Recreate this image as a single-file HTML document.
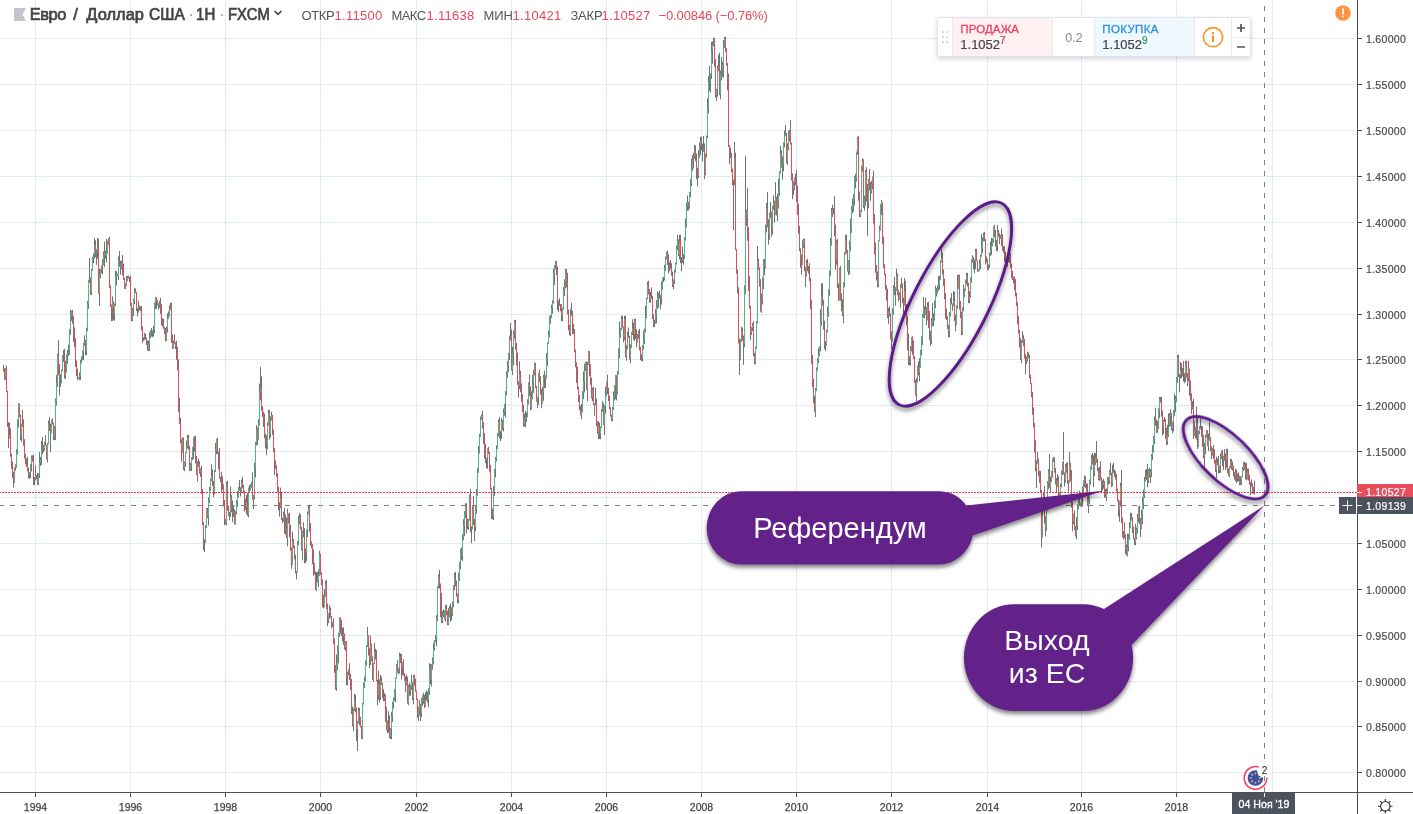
<!DOCTYPE html>
<html lang="ru">
<head>
<meta charset="utf-8">
<title>Евро / Доллар США</title>
<style>
html,body{margin:0;padding:0;background:#fff;}
body{width:1413px;height:814px;position:relative;overflow:hidden;font-family:"Liberation Sans","DejaVu Sans",sans-serif;}
#stage{position:absolute;left:0;top:0;width:1413px;height:814px;overflow:hidden;background:#fff;}
svg{position:absolute;left:0;top:0;}
.t{position:absolute;white-space:nowrap;line-height:1;}
.ax{font-size:10.5px;color:#4a4a4a;letter-spacing:0.3px;-webkit-text-stroke:0.2px #4a4a4a;}
.yr{font-size:10.5px;color:#444;letter-spacing:0;-webkit-text-stroke:0.25px #444;transform:translateX(-50%);}
.hd{font-size:13px;color:#555;top:8.6px;}
.hv{color:#e8465b;}
.tt{top:6px;font-size:16.4px;color:#444;-webkit-text-stroke:0.7px #444;}
#panel{position:absolute;left:937px;top:17px;width:314px;height:40px;background:#fff;border:1px solid #dfe3ea;box-sizing:border-box;box-shadow:0 2px 4px rgba(60,70,90,0.22);border-radius:2px;}
#panel div{position:absolute;top:0;bottom:0;box-sizing:border-box;}
#panel .t{bottom:auto;}
.callout{font-size:29px;color:#fff;text-align:center;}
</style>
</head>
<body>
<div id="stage">
<svg id="grid" width="1413" height="814" viewBox="0 0 1413 814">
  <g stroke="#e1ecf2" stroke-width="1" shape-rendering="crispEdges">
    <line x1="35.5" y1="0" x2="35.5" y2="792"/><line x1="130.5" y1="0" x2="130.5" y2="792"/><line x1="225.5" y1="0" x2="225.5" y2="792"/><line x1="320.5" y1="0" x2="320.5" y2="792"/><line x1="416.5" y1="0" x2="416.5" y2="792"/><line x1="511.5" y1="0" x2="511.5" y2="792"/><line x1="606.5" y1="0" x2="606.5" y2="792"/><line x1="701.5" y1="0" x2="701.5" y2="792"/><line x1="796.5" y1="0" x2="796.5" y2="792"/><line x1="891.5" y1="0" x2="891.5" y2="792"/><line x1="987.5" y1="0" x2="987.5" y2="792"/><line x1="1081.5" y1="0" x2="1081.5" y2="792"/><line x1="1176.5" y1="0" x2="1176.5" y2="792"/><line x1="1272.5" y1="0" x2="1272.5" y2="792"/>
    <line x1="0" y1="38.5" x2="1357" y2="38.5"/><line x1="0" y1="84.5" x2="1357" y2="84.5"/><line x1="0" y1="130.5" x2="1357" y2="130.5"/><line x1="0" y1="176.5" x2="1357" y2="176.5"/><line x1="0" y1="222.5" x2="1357" y2="222.5"/><line x1="0" y1="268.5" x2="1357" y2="268.5"/><line x1="0" y1="314.5" x2="1357" y2="314.5"/><line x1="0" y1="359.5" x2="1357" y2="359.5"/><line x1="0" y1="405.5" x2="1357" y2="405.5"/><line x1="0" y1="451.5" x2="1357" y2="451.5"/><line x1="0" y1="497.5" x2="1357" y2="497.5"/><line x1="0" y1="543.5" x2="1357" y2="543.5"/><line x1="0" y1="589.5" x2="1357" y2="589.5"/><line x1="0" y1="635.5" x2="1357" y2="635.5"/><line x1="0" y1="681.5" x2="1357" y2="681.5"/><line x1="0" y1="726.5" x2="1357" y2="726.5"/><line x1="0" y1="772.5" x2="1357" y2="772.5"/>
  </g>
  <g fill="none" stroke-width="1">
    <path stroke="#737375" d="M3.5 364.8V371.8M4.5 368.4V379.8M5.5 367.9V379.8M6.5 365.5V392.1M7.5 390.8V426.9M8.5 422.2V448.1M9.5 422.5V438.6M10.5 428.4V456.7M11.5 453.7V468.8M12.5 461.9V477.8M13.5 471.7V487.5M14.5 467V483M15.5 464.3V470.7M16.5 449.2V467.5M17.5 419.2V454.6M18.5 403.4V427.6M19.5 403.4V417.3M20.5 414.5V440M21.5 423.6V441.9M22.5 409.9V427.1M23.5 419.4V445.6M24.5 439.2V458.5M25.5 453.8V464.3M26.5 458.5V467M27.5 456.8V471.4M28.5 467.5V478.4M29.5 472V478.7M30.5 463.9V478M31.5 455.4V471.5M32.5 455.4V461.6M33.5 454.8V485.1M34.5 476.9V485.1M35.5 465.3V480.3M36.5 475.1V479.2M37.5 472.8V484.7M38.5 473.5V485.2M39.5 452V478M40.5 456.9V465.9M41.5 440.9V464.9M42.5 436.9V454.4M43.5 444.9V452.3M44.5 441.9V450.5M45.5 435.3V445.7M46.5 444.9V459.5M47.5 443.2V462.2M48.5 420.7V444.4M49.5 416.8V431M50.5 423.7V452.3M51.5 419.5V433.3M52.5 418.4V424.5M53.5 422.6V440.2M54.5 425.8V439.8M55.5 398.5V440.2M56.5 374.9V405.5M57.5 353.7V387M58.5 350.8V375.3M59.5 364.2V395.3M60.5 374.3V386.9M61.5 369.6V383.2M62.5 355.3V371.2M63.5 349.8V361.9M64.5 348.8V378.5M65.5 360.9V379.2M66.5 354.6V372.5M67.5 350V363.9M68.5 344.7V356M69.5 328.9V354.9M70.5 309.8V334.8M71.5 310.6V320.9M72.5 309.8V323.7M73.5 316.1V341.9M74.5 327.3V347.1M75.5 338.2V366.8M76.5 360.3V376.4M77.5 368.6V380.2M78.5 377.2V378.6M79.5 372.3V380.2M80.5 359.6V380.2M81.5 356.1V363.3M82.5 350.5V360.5M83.5 342.7V360.2M84.5 335.3V345.8M85.5 339.8V355.2M86.5 327.6V355.2M87.5 301.1V331.2M88.5 279.7V308.9M89.5 267.4V282.9M90.5 277.3V294.7M91.5 268.8V295M92.5 256.8V270.8M93.5 253.4V263M94.5 237.8V258.7M95.5 240.3V257.2M96.5 249.2V264.8M97.5 237.8V258.7M98.5 238.7V293.6M99.5 269V296.8M100.5 268.6V278.2M101.5 265.4V273.3M102.5 259.2V274.2M103.5 251.6V265.3M104.5 241.6V267M105.5 250.8V258.6M106.5 238.9V262.3M107.5 240.7V253.8M108.5 238.5V245M109.5 236.8V288M110.5 285.4V306.7M111.5 304.5V321.2M112.5 296.4V321.2M113.5 301.4V319.6M114.5 303.4V320.8M115.5 270.7V306M116.5 271.2V285.3M117.5 273.9V276.4M118.5 256.3V280.1M119.5 250.8V266.8M120.5 260.6V274.7M121.5 260.7V269.2M122.5 255V275.4M123.5 263.7V279.7M124.5 277.8V288.7M125.5 283.4V289.2M126.5 276V286.3M127.5 275.8V281.4M128.5 275.8V278.3M129.5 276.9V282.1M130.5 275.8V306.2M131.5 302.9V321.2M132.5 307.9V321.2M133.5 298.8V316M134.5 287.8V304.1M135.5 288.5V293.3M136.5 292V311.2M137.5 308V316.4M138.5 300.8V312.6M139.5 305.6V310.2M140.5 306.4V311.1M141.5 305.8V330.5M142.5 326.3V343.2M143.5 337.2V340.9M144.5 333V340.1M145.5 333.7V339.3M146.5 337.4V344.9M147.5 340.5V350.6M148.5 340.6V351.2M149.5 332.3V351M150.5 330.5V338.3M151.5 327.9V336.6M152.5 330.1V337.2M153.5 325.8V336.4M154.5 302.4V333.2M155.5 297.3V309.3M156.5 297.3V308.9M157.5 300V305.4M158.5 303.5V309.8M159.5 300.8V307.9M160.5 297.8V313.8M161.5 304.2V325.6M162.5 318.2V326.5M163.5 319V328.9M164.5 327.1V334.1M165.5 328V341.2M166.5 326.5V341.2M167.5 313.4V332.5M168.5 311.3V319.1M169.5 305.3V316.5M170.5 302.8V310.4M171.5 302.8V342.9M172.5 334.7V348.9M173.5 340.4V348.7M174.5 334.3V343.8M175.5 342.1V349M176.5 340.8V359.8M177.5 347V370.4M178.5 359.4V411.7M179.5 398.1V424.2M180.5 417.5V443.1M181.5 439.3V461.8M182.5 437.3V452.8M183.5 437.5V469.9M184.5 461.4V471.2M185.5 452.2V467M186.5 440.6V453.2M187.5 434.8V448.4M188.5 434.8V449.7M189.5 446V471.2M190.5 463V470.5M191.5 457.4V471.2M192.5 447.1V460.1M193.5 437.6V459M194.5 435.8V451.5M195.5 436.1V463.4M196.5 456V475.1M197.5 461.4V481.7M198.5 458.6V466.7M199.5 461.3V473.8M200.5 468.4V476.9M201.5 466V493.7M202.5 489V525.2M203.5 522.2V550.1M204.5 539.4V552.1M205.5 525.2V542.8M206.5 508V528.1M207.5 507.8V518.2M208.5 497.4V525.5M209.5 486.9V503.2M210.5 478.5V490.7M211.5 464.3V481.1M212.5 469.4V485.9M213.5 481V497.2M214.5 469.8V494.6M215.5 442.8V472.1M216.5 438.7V454.3M217.5 437.8V453.9M218.5 451.6V469.3M219.5 448.2V478.7M220.5 476.8V482.4M221.5 471.9V492.5M222.5 476.3V489.6M223.5 484.1V506.5M224.5 500V525.2M225.5 518.9V524.2M226.5 481.8V525.2M227.5 480.8V510.7M228.5 505.6V515.9M229.5 511.7V520.3M230.5 486.6V516.9M231.5 494.8V512.4M232.5 500.2V522.3M233.5 505.4V516.9M234.5 509.2V524.4M235.5 511.2V524.4M236.5 500.2V514.5M237.5 490.9V506.6M238.5 487V497.5M239.5 480V490.8M240.5 487.2V496.4M241.5 479.6V493M242.5 476.9V487.9M243.5 485V493.5M244.5 490.4V511.7M245.5 498.8V509.9M246.5 494.9V514.4M247.5 492.8V515.8M248.5 487.5V517.2M249.5 484.6V491.9M250.5 484.3V490.3M251.5 482V487.9M252.5 472.4V499.9M253.5 495V509.2M254.5 462.8V499M255.5 441.8V477.4M256.5 425V445.4M257.5 427.4V445M258.5 419.3V440.4M259.5 383.8V425.7M260.5 366.8V400.3M261.5 376.4V410.8M262.5 406.1V416.9M263.5 411.7V426.8M264.5 413.4V438.3M265.5 433.5V448.3M266.5 435.2V455.2M267.5 422.4V449.3M268.5 409.8V425.5M269.5 409.8V439.7M270.5 416.4V437.6M271.5 411.6V420.6M272.5 415V434.9M273.5 429.6V452.5M274.5 447.9V475M275.5 460.4V468.8M276.5 465.4V477M277.5 473.2V492.4M278.5 486.8V510.2M279.5 502.3V516.7M280.5 487.6V508.3M281.5 493V520M282.5 517.7V523.2M283.5 511.8V521.6M284.5 508V533.7M285.5 514.6V534.6M286.5 517.5V538M287.5 508.8V546.4M288.5 513.6V523.5M289.5 512.8V537.3M290.5 525V550.7M291.5 547.5V568.7M292.5 531.5V564.7M293.5 538.9V548.2M294.5 545.5V559.6M295.5 554.8V573.4M296.5 570.9V579.2M297.5 540.9V572.3M298.5 516.2V545.4M299.5 512.8V524.6M300.5 514.3V529.7M301.5 527V550.4M302.5 530.6V560.4M303.5 522.2V537.2M304.5 528.2V563.2M305.5 548.3V563.1M306.5 529.5V561M307.5 511.4V537.2M308.5 505.5V514.3M309.5 504.8V532M310.5 523.1V545.7M311.5 541.3V548.3M312.5 544.1V564.1M313.5 549.5V575.6M314.5 563.1V574.6M315.5 571.4V590.1M316.5 572.3V590.9M317.5 572V582.7M318.5 569.5V587.1M319.5 550.8V575.8M320.5 553.8V574.9M321.5 572.2V585.3M322.5 579.5V607.5M323.5 594.7V608.4M324.5 589.1V607.2M325.5 580.9V596.9M326.5 579.8V609.1M327.5 603.7V626.2M328.5 613.3V623.3M329.5 604.8V618.9M330.5 607.5V617.7M331.5 616V628.2M332.5 621.8V626.8M333.5 618.4V643.8M334.5 638.6V672.8M335.5 665V689.5M336.5 654.5V690.8M337.5 645.4V670.6M338.5 632.9V663.4M339.5 617.4V636.9M340.5 617.4V633.8M341.5 619.7V636.1M342.5 627.4V641.4M343.5 627.4V644.9M344.5 633.5V649.3M345.5 641.3V651M346.5 640.9V685.2M347.5 671.6V685.4M348.5 669.3V675.3M349.5 663.1V679.9M350.5 673.8V689.9M351.5 679V714.1M352.5 706.4V726.1M353.5 708.3V731.1M354.5 693.8V711M355.5 694.8V712.5M356.5 707.6V741.2M357.5 720.9V740.3M358.5 707.6V723.3M359.5 707.8V725.4M360.5 716.9V727.4M361.5 726V738.6M362.5 702.9V739.2M363.5 682.6V704.6M364.5 676.6V688.3M365.5 660.6V681M366.5 645.1V665.5M367.5 626.8V647M368.5 635.1V655.6M369.5 648.2V668.2M370.5 635.7V664.9M371.5 643.6V661.2M372.5 656.4V680M373.5 662.9V681.7M374.5 642.8V664M375.5 648.8V659.6M376.5 650.1V681.3M377.5 679.9V705.2M378.5 670.7V699.7M379.5 679.3V702.4M380.5 674.9V699.9M381.5 676.8V684.9M382.5 682.9V698.4M383.5 689.2V701.3M384.5 693V701M385.5 694.6V721.8M386.5 706.8V730.5M387.5 720.6V733.2M388.5 711.2V732.6M389.5 715.4V738.2M390.5 728V739.2M391.5 711.8V739.2M392.5 701.8V722.1M393.5 697.3V708.7M394.5 689.2V701M395.5 677.6V702.3M396.5 664.2V678.6M397.5 660.3V672.7M398.5 668.3V674.4M399.5 652.8V673.4M400.5 653.5V663.2M401.5 654V679.6M402.5 662V675M403.5 659.3V676.1M404.5 673.3V680.7M405.5 676.6V692.1M406.5 674.4V685.3M407.5 676.8V703.6M408.5 684.8V705.2M409.5 682.6V695.8M410.5 684.8V695.6M411.5 674.8V690.1M412.5 682.1V700M413.5 674.8V704.3M414.5 674.8V685.6M415.5 678.6V691.8M416.5 690.5V700M417.5 698.7V717.8M418.5 706.7V721.2M419.5 700.3V715.4M420.5 703.8V721.2M421.5 698V717M422.5 695.3V705.9M423.5 692.8V703.8M424.5 694.9V707.9M425.5 692.3V706.8M426.5 690.5V700.3M427.5 691.4V702.7M428.5 688.2V707.2M429.5 663.2V695M430.5 664.2V684.1M431.5 664.1V686.7M432.5 657.4V669.8M433.5 642.8V664.4M434.5 640V650.4M435.5 635V642.2M436.5 615.1V646.4M437.5 586V621M438.5 574.1V588.1M439.5 569.8V588.7M440.5 583.5V617.3M441.5 592.9V623.2M442.5 611.3V623.2M443.5 609.3V617M444.5 610.4V619.5M445.5 604.8V621.6M446.5 604.8V615.2M447.5 610.9V625.2M448.5 608.1V625.2M449.5 605.8V617.4M450.5 603.4V621.8M451.5 607.1V620.1M452.5 601.5V616M453.5 585.2V607.3M454.5 572.8V590.3M455.5 571.9V586.2M456.5 580.4V596.5M457.5 593.5V603.2M458.5 572.7V603.2M459.5 561.7V580.9M460.5 548.9V569.3M461.5 547.3V559.7M462.5 534.6V561M463.5 519.2V540.2M464.5 511.2V536.1M465.5 503.3V518.3M466.5 503.3V533.5M467.5 518.6V528.9M468.5 519V530.1M469.5 494.4V520.6M470.5 488.9V532.1M471.5 526.2V543.2M472.5 506.5V529.3M473.5 496.2V525M474.5 519V541M475.5 506.1V531.2M476.5 489.1V513.7M477.5 468.1V495.8M478.5 446V472.8M479.5 434V453.5M480.5 416.7V436.8M481.5 414.7V420M482.5 410.8V428.5M483.5 422.2V444M484.5 433.2V458.7M485.5 443.9V463.2M486.5 457.6V468.2M487.5 448.4V468.7M488.5 446.8V454.2M489.5 451.8V471.8M490.5 464.8V489.6M491.5 487.9V519.2M492.5 508.5V519.2M493.5 486.1V519.2M494.5 468.8V495.7M495.5 456.9V477.4M496.5 445.4V461.3M497.5 433.2V448.9M498.5 419.7V436.6M499.5 417.1V438.3M500.5 431.1V441.2M501.5 417.9V438.9M502.5 419.9V430M503.5 408.6V431.6M504.5 403.9V415.7M505.5 391.2V417.6M506.5 371.4V395.3M507.5 360.9V377.6M508.5 353.1V372.2M509.5 335.5V360M510.5 322.9V340.4M511.5 329.6V370.5M512.5 346.8V375.2M513.5 330.5V365.3M514.5 319.8V338.6M515.5 319.8V349.8M516.5 343V365.3M517.5 352.5V384.8M518.5 381.4V397.5M519.5 361.3V389M520.5 370.8V392.2M521.5 383.3V401.9M522.5 394.2V411.9M523.5 404.7V426.5M524.5 413.8V426.7M525.5 410.8V427.2M526.5 412.2V421.8M527.5 399.3V417.3M528.5 382.5V404.5M529.5 374.3V396.1M530.5 386.4V410.3M531.5 391.2V409.2M532.5 374.9V399.3M533.5 369.8V392.9M534.5 362.8V375.5M535.5 362.8V388M536.5 386.1V401.6M537.5 396.8V408.2M538.5 372.7V404.6M539.5 369.8V382M540.5 376.1V394.6M541.5 389.2V408.2M542.5 387V403.6M543.5 374.8V400.8M544.5 370.7V388.4M545.5 375.3V387.8M546.5 353.1V378.5M547.5 342.5V365.8M548.5 330.6V343.9M549.5 315.9V337.1M550.5 315V323.7M551.5 304.7V317.9M552.5 300.3V313.7M553.5 268.9V303.6M554.5 265.2V285M555.5 261.1V269.4M556.5 260.8V275M557.5 266.7V310M558.5 300.6V312.1M559.5 298.3V306.2M560.5 304.1V311.3M561.5 304.1V321.2M562.5 307.8V321.2M563.5 286.9V309.6M564.5 279.3V296.2M565.5 269V288.6M566.5 268.8V287.5M567.5 272.8V314.3M568.5 309.7V330.3M569.5 325V335.2M570.5 309.4V336.3M571.5 302.8V316.1M572.5 311V334.2M573.5 324V333.9M574.5 329V352.4M575.5 349.6V367.2M576.5 362.2V383M577.5 367V389.2M578.5 386.7V402M579.5 395.1V410.1M580.5 405.7V415.4M581.5 404.1V419.2M582.5 391V412.4M583.5 371.3V399.2M584.5 363.8V392.5M585.5 361.8V371M586.5 361.4V389.8M587.5 362.2V401.2M588.5 350.8V365M589.5 351.3V376.3M590.5 364.1V384.7M591.5 377.7V398.4M592.5 387.7V400.9M593.5 386.9V405.1M594.5 403.4V415.7M595.5 387.7V405.3M596.5 398.5V426.3M597.5 421.4V433.6M598.5 421.1V439.2M599.5 422.8V439M600.5 426.4V439.2M601.5 408.8V428M602.5 400.8V412.1M603.5 403.3V425.2M604.5 405.6V435M605.5 386.8V413.6M606.5 382V396M607.5 374.8V394.1M608.5 387.7V401M609.5 395.7V409.2M610.5 407.3V416.5M611.5 414.8V421.2M612.5 406.9V421.2M613.5 391.5V409.9M614.5 385.3V400.4M615.5 375.1V399.2M616.5 375.3V400.5M617.5 371.2V394.2M618.5 348.4V374.6M619.5 321.5V358.5M620.5 327.9V337.4M621.5 315.8V329.9M622.5 315.8V327.5M623.5 326.4V342.3M624.5 315.8V340M625.5 315.8V357.4M626.5 345.2V360.8M627.5 331.5V349.3M628.5 327.4V337.8M629.5 335.8V359.5M630.5 344.2V363.2M631.5 331.9V348.1M632.5 319.3V335M633.5 322.6V339.6M634.5 318.8V341M635.5 318.8V338.9M636.5 329.4V347.3M637.5 333.8V342.7M638.5 330.7V338.9M639.5 328.8V350.3M640.5 346.9V360.2M641.5 354.2V361.2M642.5 344.9V361.2M643.5 330.8V349.4M644.5 328.5V344.1M645.5 305.8V332.3M646.5 297.8V318.1M647.5 281.6V299.4M648.5 280.8V294.5M649.5 288.9V302.8M650.5 292V302.7M651.5 287.5V299M652.5 295.8V319M653.5 314.4V326.8M654.5 319.6V327.2M655.5 309.1V323.8M656.5 300.1V323.4M657.5 291.3V308.9M658.5 293V307.7M659.5 290.8V298.8M660.5 295V309.2M661.5 281.3V304.6M662.5 277.6V289.9M663.5 276.8V282.1M664.5 264.7V280.6M665.5 256.4V270.9M666.5 251.6V259.3M667.5 250.8V265.1M668.5 254.2V273.5M669.5 262.3V271.3M670.5 260V269.1M671.5 263.3V275.6M672.5 271.6V287M673.5 279.3V289.2M674.5 269.6V284.1M675.5 262.5V272.7M676.5 245.4V264.6M677.5 234.8V250.2M678.5 239.3V256.2M679.5 234.8V259.4M680.5 234.9V263.1M681.5 257V271.2M682.5 246.6V263M683.5 254.5V264.7M684.5 237.3V258.9M685.5 218.3V240.4M686.5 202.6V227.6M687.5 195.5V210.8M688.5 201.9V210.5M689.5 192V208.7M690.5 179.3V197.2M691.5 158.4V186.2M692.5 155.1V170.9M693.5 152.7V168.6M694.5 144.8V158.8M695.5 145.4V161.3M696.5 153.5V179.1M697.5 167.7V186.3M698.5 150.4V178.1M699.5 142.5V157.6M700.5 136.8V155.1M701.5 136.8V150.4M702.5 143.5V161.4M703.5 136.1V151.7M704.5 143.4V179.2M705.5 153.5V175.1M706.5 135.6V157.6M707.5 98.3V138M708.5 76.3V113.3M709.5 65.9V91M710.5 73.5V92.5M711.5 41.9V79M712.5 41.3V63.8M713.5 37.8V46.1M714.5 37.8V66.5M715.5 59.2V97.6M716.5 88.8V101.2M717.5 65.6V96.8M718.5 54.8V71.2M719.5 52.6V95.1M720.5 70.6V99.2M721.5 57V80.4M722.5 61.8V76.7M723.5 40V77.7M724.5 36.8V48.1M725.5 36.8V51.7M726.5 48.1V65.8M727.5 63.1V90.4M728.5 73.5V146.8M729.5 144.8V164.2M730.5 147.7V158.1M731.5 152.7V172.1M732.5 168.5V185.2M733.5 179.5V205.3M734.5 146.9V184.9M735.5 152.7V250.2M736.5 248.9V273.8M737.5 269.5V293.5M738.5 287.3V343.4M739.5 338.6V365.2M740.5 339.2V360.1M741.5 326.8V341.9M742.5 327.7V340.6M743.5 335.5V364.9M744.5 285.3V347.1M745.5 208.9V294.2M746.5 209.8V225.9M747.5 204.8V240.7M748.5 227.2V290.9M749.5 276.2V308.6M750.5 305.9V340M751.5 327.1V334.9M752.5 323V331M753.5 321V356.3M754.5 352.8V364.2M755.5 346.6V364.2M756.5 321.1V348.6M757.5 258.8V323.3M758.5 258.8V269.7M759.5 267.4V286.7M760.5 279.1V311.7M761.5 293.4V312.9M762.5 277.3V304.5M763.5 258.9V289.2M764.5 259.4V275.2M765.5 224.8V268.4M766.5 202.8V232.4M767.5 204.8V227.5M768.5 219.3V244.7M769.5 212.8V239.8M770.5 202.1V218M771.5 211.5V236.6M772.5 205.8V234.4M773.5 195.3V209.8M774.5 200.7V222.6M775.5 192.5V214.9M776.5 196.7V215.4M777.5 193.5V221.2M778.5 178.6V208.6M779.5 171.3V196.1M780.5 146.1V173.4M781.5 150.4V167.7M782.5 156.4V179.7M783.5 142.3V171.3M784.5 130.6V147.4M785.5 125.1V136.3M786.5 133V163.3M787.5 143.3V165M788.5 130.7V150.1M789.5 129.8V141.2M790.5 128.8V144.4M791.5 142.7V180.5M792.5 173.4V199.2M793.5 181.3V195M794.5 177.5V190.4M795.5 173.8V185.1M796.5 178.3V201.6M797.5 185.5V215M798.5 203.8V233.7M799.5 225.9V251.1M800.5 248.4V267.8M801.5 254.6V274.8M802.5 240.3V264.8M803.5 238.5V248.2M804.5 238.6V271.1M805.5 267V287.2M806.5 259.9V276.2M807.5 258.7V271.3M808.5 266.1V273.7M809.5 263.1V281.1M810.5 277.9V309.1M811.5 300V363.8M812.5 355V387.2M813.5 378.9V403.2M814.5 395.8V411.8M815.5 388V411.6M816.5 367.5V391.1M817.5 358.3V370.7M818.5 348.4V363M819.5 346V356.3M820.5 309.3V351.4M821.5 283.4V325.6M822.5 283.3V305.5M823.5 300.1V329.6M824.5 320.7V349M825.5 341.3V351.2M826.5 329.7V345.8M827.5 306.7V332.4M828.5 289.4V316.7M829.5 270.6V295.7M830.5 238V276.3M831.5 208V245.7M832.5 204.8V217M833.5 207.9V214.4M834.5 206.9V236.2M835.5 224.6V269.9M836.5 239.8V264.6M837.5 238.8V288.1M838.5 283.4V300.9M839.5 267.6V300.5M840.5 265.8V300.7M841.5 293.3V311.2M842.5 299.2V316M843.5 282.3V323.2M844.5 252.1V287.2M845.5 234.8V254.6M846.5 234.8V253.3M847.5 250V271.6M848.5 260V275.2M849.5 240.7V274M850.5 218.5V251.1M851.5 206.1V232.9M852.5 198.5V213.3M853.5 194.2V211.5M854.5 176.3V205.4M855.5 173.7V188.3M856.5 151.5V181.6M857.5 136.8V154.9M858.5 136.8V200.9M859.5 191.4V217.2M860.5 210.2V217.2M861.5 165.8V212.2M862.5 158.4V171.6M863.5 159.3V207.9M864.5 195.7V210.6M865.5 170V205.8M866.5 167.1V201.7M867.5 184V221.2M868.5 178.8V208.2M869.5 168.8V190.5M870.5 182.2V200.8M871.5 180.8V193.3M872.5 176.5V189.3M873.5 170.8V223.6M874.5 213.9V254.5M875.5 242.5V272.9M876.5 265V280.5M877.5 271.6V287.2M878.5 240.2V287.2M879.5 225.6V241.4M880.5 204.3V230.8M881.5 203.2V214.9M882.5 202.7V244.4M883.5 236.8V268M884.5 264.2V275.2M885.5 273.8V289.6M886.5 285.2V300.5M887.5 288.8V318.2M888.5 307.9V323.7M889.5 306.3V316.5M890.5 313.1V339.6M891.5 331.6V349.2M892.5 308.4V341.6M893.5 285.2V314.4M894.5 276.9V295.1M895.5 287.2V305.7M896.5 268.8V291M897.5 273.5V295.3M898.5 290.2V301.2M899.5 292.4V299.6M900.5 284.4V307.7M901.5 277.8V288.1M902.5 283.4V303M903.5 297.6V320.7M904.5 277.8V305.6M905.5 280.9V312.9M906.5 304.1V325.7M907.5 316.5V350.3M908.5 333.7V365.2M909.5 356.4V365.2M910.5 346.1V365.7M911.5 337.1V351.4M912.5 336.4V354.8M913.5 340.3V359M914.5 356.1V382.9M915.5 379.8V395.6M916.5 378V395.6M917.5 365.7V382.6M918.5 361.4V375.3M919.5 358.3V381.2M920.5 349.7V368M921.5 336.3V355.5M922.5 314.1V345.1M923.5 296.8V317.6M924.5 306.3V318.4M925.5 297.7V314.9M926.5 307.1V325M927.5 302.3V320.4M928.5 301.8V327.9M929.5 311V339.9M930.5 331V345.8M931.5 318V343.9M932.5 303.2V326.3M933.5 313.2V326M934.5 300.5V320.5M935.5 285.5V308.1M936.5 287.9V296.6M937.5 285.3V293.5M938.5 276V291M939.5 276V289.4M940.5 260.4V280M941.5 248.8V262.6M942.5 252.5V274.5M943.5 269.4V285.9M944.5 278.7V299.2M945.5 293.2V318.7M946.5 308.4V320M947.5 316.2V329M948.5 324.9V337.2M949.5 312.1V337.2M950.5 297.9V316.3M951.5 293V304.5M952.5 303.5V310.8M953.5 291V306.1M954.5 291.7V321.1M955.5 314.6V331.2M956.5 305.1V325.4M957.5 274.8V308.6M958.5 274.8V288.8M959.5 274.8V309.6M960.5 300.9V318.2M961.5 311.5V335.2M962.5 307.2V335.2M963.5 284.7V311.2M964.5 288.6V297.3M965.5 279.6V290.8M966.5 272.8V284.5M967.5 272.9V286.7M968.5 282.8V303.2M969.5 291.1V303.2M970.5 277.3V297.6M971.5 259.3V282.8M972.5 255.4V262.5M973.5 256.9V269.6M974.5 259.4V273.3M975.5 248.8V269.2M976.5 248.8V261.4M977.5 260.7V271.7M978.5 269.3V271.7M979.5 259.4V270.7M980.5 254.6V269.2M981.5 234.2V256.7M982.5 237.1V252.8M983.5 232.8V241.2M984.5 231.8V241.3M985.5 239.1V264.6M986.5 256.6V262.4M987.5 258.9V270.2M988.5 264.4V270.2M989.5 252.6V267.8M990.5 241.6V256.1M991.5 238V254.8M992.5 238.6V246.3M993.5 226.5V242.7M994.5 224.8V237.1M995.5 230V246.7M996.5 240V251.2M997.5 224.9V250.8M998.5 230V236.8M999.5 233.3V243.9M1000.5 235.1V238.8M1001.5 228.8V246.1M1002.5 234.1V250.7M1003.5 246.3V252.9M1004.5 245.8V261.7M1005.5 251.8V264.3M1006.5 258.3V267.2M1007.5 253.2V266.9M1008.5 252.3V262.2M1009.5 256.8V263.1M1010.5 253.3V268.1M1011.5 263.5V278.4M1012.5 271V280M1013.5 276.7V283.4M1014.5 276.5V289.9M1015.5 279V296.4M1016.5 292.8V305.9M1017.5 302.4V324.3M1018.5 315.7V333.6M1019.5 330V347.7M1020.5 337.9V359.8M1021.5 340.2V363.2M1022.5 331.2V342.8M1023.5 335.3V346.3M1024.5 338.9V358.6M1025.5 353.9V374.2M1026.5 356.6V364.3M1027.5 351.6V361.7M1028.5 352.5V358.4M1029.5 354.8V378.4M1030.5 374.8V384.1M1031.5 383.2V397.4M1032.5 392V414.8M1033.5 407.3V427.2M1034.5 423V452.6M1035.5 440.3V471.2M1036.5 460.4V470.4M1037.5 451.6V463.7M1038.5 458.7V476.3M1039.5 470.6V482.9M1040.5 470.9V492.6M1041.5 489.7V547.2M1042.5 504.6V537.6M1043.5 492.4V508.8M1044.5 486.1V523.5M1045.5 516.2V536.3M1046.5 501.4V530.7M1047.5 481V510.3M1048.5 469.2V489.3M1049.5 468V487.5M1050.5 476.5V493M1051.5 470.9V481.7M1052.5 458.5V477.5M1053.5 456.8V462.1M1054.5 457.5V472.7M1055.5 468.1V484.5M1056.5 478.2V493.2M1057.5 474V486.9M1058.5 476.4V496.1M1059.5 492V503.2M1060.5 483.7V501.2M1061.5 470.7V487.4M1062.5 462.3V474.9M1063.5 460.8V474.7M1064.5 472.4V486.5M1065.5 463.9V482.6M1066.5 462.8V472.7M1067.5 462.3V483.9M1068.5 480.4V491.5M1069.5 462.8V482.6M1070.5 462.8V481.3M1071.5 470.1V507.8M1072.5 502.2V531.3M1073.5 513.6V524.1M1074.5 510.4V529.9M1075.5 526.1V536.4M1076.5 517.2V539.2M1077.5 504.3V530M1078.5 497.9V509.4M1079.5 490.8V505.3M1080.5 502.3V506.6M1081.5 496.4V506.8M1082.5 486.6V506.6M1083.5 480.2V494.2M1084.5 475.6V487M1085.5 476.3V488.2M1086.5 483.6V491.4M1087.5 483.6V505.9M1088.5 495V513.2M1089.5 479.6V504.3M1090.5 466.5V484.4M1091.5 454.8V469.8M1092.5 452.8V464.6M1093.5 455.1V487.2M1094.5 452.9V476.1M1095.5 453V465M1096.5 452.8V462.7M1097.5 458.8V471.1M1098.5 467.6V480.2M1099.5 466.8V481.2M1100.5 461.2V479.6M1101.5 477.5V493.2M1102.5 480.2V490.5M1103.5 478.8V488.8M1104.5 481V497.7M1105.5 489V497.6M1106.5 488.3V501.2M1107.5 477.3V493.9M1108.5 477.1V484.7M1109.5 469.8V483.8M1110.5 462.8V475.2M1111.5 472.7V487.2M1112.5 464.7V486M1113.5 462.8V472.9M1114.5 469.6V476.8M1115.5 471.1V479.7M1116.5 474.2V491.4M1117.5 488.6V501.4M1118.5 499.5V516.7M1119.5 500.7V521.8M1120.5 482.8V506.5M1121.5 485.1V523.2M1122.5 517.5V537.3M1123.5 531.3V539.4M1124.5 522.4V538.3M1125.5 534.4V554.3M1126.5 544.5V555.5M1127.5 533.7V556.4M1128.5 533.9V551.2M1129.5 522.1V539.7M1130.5 512.8V528.3M1131.5 512.8V520.6M1132.5 517.4V533.1M1133.5 526.7V539.5M1134.5 537.7V545.1M1135.5 523.7V545.2M1136.5 527.5V539.5M1137.5 513.9V533.6M1138.5 506.4V522.3M1139.5 505.4V524.2M1140.5 518V536.9M1141.5 509.9V529M1142.5 497.1V524.2M1143.5 489.6V508.9M1144.5 476.9V498M1145.5 470V481.6M1146.5 468.8V479.9M1147.5 463.8V487.4M1148.5 469.4V483.2M1149.5 467.7V477.7M1150.5 469.1V483.2M1151.5 454V477M1152.5 445.2V460.1M1153.5 435.9V452.6M1154.5 416.6V444.2M1155.5 407.7V425.8M1156.5 419.5V433M1157.5 421V432.6M1158.5 408.3V429.2M1159.5 397V418.1M1160.5 396.8V402.7M1161.5 397V416.7M1162.5 410.6V435.7M1163.5 419.7V433.9M1164.5 417V421.9M1165.5 418.9V438.7M1166.5 427.7V445.2M1167.5 424.9V444.6M1168.5 413.3V437M1169.5 413.4V426.9M1170.5 409.1V426.1M1171.5 412.8V430.1M1172.5 421.7V433.2M1173.5 410.1V431.3M1174.5 393.5V415.9M1175.5 395.8V411.9M1176.5 377V401.9M1177.5 354.8V382.8M1178.5 354.8V377M1179.5 373.9V392.2M1180.5 361.9V378.5M1181.5 363V378M1182.5 367.9V376.4M1183.5 360.8V381.5M1184.5 373.1V383.2M1185.5 361V381.6M1186.5 360.8V377.4M1187.5 373.1V386.1M1188.5 360.8V381.2M1189.5 368.7V396M1190.5 380.4V400.7M1191.5 393.4V414.1M1192.5 401.3V409.2M1193.5 398.8V438.9M1194.5 421.3V436.2M1195.5 426.9V437.9M1196.5 406.5V439.5M1197.5 417.6V449M1198.5 430.7V446.7M1199.5 426.2V434.1M1200.5 416.8V429.5M1201.5 425.6V436.8M1202.5 426.4V446.8M1203.5 435V458.3M1204.5 442.8V459.2M1205.5 434.4V454.3M1206.5 430.2V437.6M1207.5 430.2V446.2M1208.5 433.5V451.1M1209.5 434.7V440.8M1210.5 437.1V451.3M1211.5 446.3V459.1M1212.5 447.9V455.5M1213.5 445V458.7M1214.5 449.3V463.6M1215.5 460V472M1216.5 456.7V471.8M1217.5 458.4V465.1M1218.5 456V473.2M1219.5 465.5V473.2M1220.5 453.4V472.7M1221.5 450.3V459.1M1222.5 450.2V466.1M1223.5 455.7V470M1224.5 449.1V460.8M1225.5 453.4V470M1226.5 448.8V467.5M1227.5 448.8V473.3M1228.5 468.5V475.8M1229.5 466.2V477.1M1230.5 458.9V468.2M1231.5 458.8V469.6M1232.5 461.5V470.5M1233.5 465.5V476.3M1234.5 471.9V479.4M1235.5 468.8V481.1M1236.5 469.6V483M1237.5 473.3V481.7M1238.5 472.4V481.2M1239.5 475.6V485.2M1240.5 476.5V485.2M1241.5 476.3V484.8M1242.5 467V477.2M1243.5 461.9V471.1M1244.5 461.9V469.7M1245.5 462.8V479.4M1246.5 462.8V480.3M1247.5 468.6V479.4M1248.5 468.8V480.5M1249.5 474.7V484.7M1250.5 481.7V489.4M1251.5 479.3V486.6M1252.5 483.4V493.6M1253.5 487V493.7M1254.5 480.8V494.5M745.5 156V226M734.5 142V166M733.5 200V230M747.5 188V230M757.5 246V262M767.5 192V215M775.5 182V200M790.5 120V135M796.5 170V190M834.5 196V215M858.5 136V150M867.5 215V236M881.5 200V212M1063.5 432V460M1096.5 441V456M1069.5 452V466M1049.5 454V470M1121.5 470V490M1036.5 470V488M1204.5 450V468M1209.5 422V436M1216.5 464V478M1250.5 486V495M357.5 731V751M58.5 340V352M260.5 368V385M89.5 258V275M99.5 290V306M470.5 490V512M493.5 497V520M739.5 352V375M815.5 395V417M916.5 380V401"/>
    <path stroke="#4fb88a" d="M5.5 368.3V377.6M9.5 435.1V438.1M14.5 467.5V482M15.5 465.8V467.5M16.5 451.5V465.8M17.5 420.4V451.5M18.5 404.6V420.4M21.5 424V435M22.5 423.6V424.6M29.5 472.9V474.4M30.5 464.4V472.9M31.5 457.4V464.4M35.5 476V479.4M38.5 473.8V483.3M39.5 462.4V473.8M40.5 459.6V462.4M41.5 448.8V459.6M42.5 445.5V448.8M44.5 442.4V448.7M47.5 443.5V458.7M48.5 424.2V443.5M51.5 420.1V432.6M54.5 428.6V437.7M55.5 401.2V428.6M56.5 381.8V401.2M57.5 354.6V381.8M60.5 380.9V381.9M61.5 370.8V380.9M62.5 357V370.8M65.5 371.4V376.2M66.5 355.7V371.4M67.5 353.6V355.7M68.5 351.1V353.6M69.5 329.5V351.1M70.5 315.4V329.5M71.5 311.6V315.4M78.5 377.9V378.9M79.5 375.1V377.9M80.5 361.8V375.1M81.5 357.3V361.8M82.5 351.7V357.3M83.5 343.5V351.7M84.5 341.9V343.5M86.5 330.2V350.5M87.5 303.3V330.2M88.5 280V303.3M89.5 278.9V280M91.5 269.5V292M92.5 258V269.5M93.5 256.4V258M94.5 244.8V256.4M96.5 251.5V253M97.5 248.4V251.5M99.5 275.3V292.3M100.5 269.3V275.3M101.5 266.4V269.3M102.5 264.5V266.4M103.5 255.4V264.5M104.5 252.8V255.4M106.5 252.2V256.1M107.5 243.4V252.2M108.5 239.5V243.4M112.5 301.8V308.5M114.5 304.7V314.3M115.5 276.7V304.7M116.5 274.5V276.7M118.5 260.5V275.9M121.5 263V267.6M125.5 284.9V287.8M126.5 281V284.9M127.5 277.5V281M132.5 309.8V319.5M133.5 300.4V309.8M134.5 291.1V300.4M137.5 308.6V309.6M138.5 307.9V308.9M139.5 307.3V308.3M143.5 337.5V338.5M144.5 335.4V337.5M148.5 343.8V349.4M149.5 336.7V343.8M150.5 332.4V336.7M152.5 330.6V332.9M153.5 330.5V331.5M154.5 303.2V330.5M155.5 298.5V303.2M158.5 304.3V305.3M159.5 303.8V304.8M166.5 329.1V339.3M167.5 318.5V329.1M168.5 315V318.5M169.5 310.1V315M170.5 305.2V310.1M173.5 342.8V347.4M174.5 342.5V343.5M182.5 439.8V452.4M184.5 462.2V468.4M185.5 452.5V462.2M186.5 447V452.5M187.5 438.5V447M190.5 464.4V469.6M191.5 458.8V464.4M192.5 448.4V458.8M193.5 439.4V448.4M197.5 466.3V474.6M198.5 463.7V466.3M200.5 469.9V472.1M205.5 527.5V542M206.5 509V527.5M208.5 500.4V516.9M209.5 489V500.4M210.5 480.3V489M211.5 475.9V480.3M214.5 471.8V492.3M215.5 449.9V471.8M216.5 439.1V449.9M226.5 485.4V522.9M229.5 513.1V514.8M230.5 497.5V513.1M233.5 511.3V512.9M235.5 512.4V523.1M236.5 501.9V512.4M237.5 496.4V501.9M238.5 489.6V496.4M239.5 488.3V489.6M241.5 482.2V491.4M246.5 502.7V507M248.5 488.5V514.1M250.5 486.1V488.7M251.5 483.4V486.1M253.5 496.8V499.2M254.5 468.8V496.8M255.5 443.6V468.8M256.5 429.4V443.6M258.5 424.4V439.2M259.5 392.4V424.4M260.5 387.1V392.4M267.5 424.6V446.7M268.5 413.7V424.6M270.5 419.7V434.6M271.5 416.9V419.7M280.5 497.7V506.8M283.5 515V519.7M287.5 514.2V537.4M292.5 541.4V563.4M296.5 571.2V572.3M297.5 542.5V571.2M298.5 521.7V542.5M299.5 517.9V521.7M302.5 532.1V549M306.5 529.8V553.1M307.5 513.5V529.8M308.5 507.9V513.5M316.5 581.2V589.7M318.5 574.9V581.8M319.5 554.9V574.9M324.5 595.4V606.5M325.5 584.4V595.4M328.5 613.6V619.9M329.5 609.8V613.6M332.5 622.4V624.6M336.5 664.8V687.6M337.5 650.1V664.8M338.5 633.9V650.1M339.5 618.6V633.9M343.5 634.6V636.3M345.5 641.7V648M347.5 672.5V676.2M348.5 670.2V672.5M353.5 710.1V724.8M354.5 700.1V710.1M357.5 722.5V729.6M358.5 710.4V722.5M362.5 703.6V736.9M363.5 685.9V703.6M364.5 680.2V685.9M365.5 661.9V680.2M366.5 645.7V661.9M367.5 635.4V645.7M370.5 645.1V660.3M373.5 663.2V678.8M374.5 651.9V663.2M378.5 684.1V695.2M380.5 679.7V697.6M384.5 696V698.8M387.5 721.9V729.4M390.5 729.2V736.6M391.5 715.7V729.2M392.5 704.2V715.7M393.5 699.5V704.2M394.5 692.3V699.5M395.5 678.2V692.3M396.5 665V678.2M398.5 668.7V671.9M399.5 656.4V668.7M402.5 662.5V668M406.5 681.8V683.9M408.5 686.3V702.6M410.5 686.6V691.3M411.5 682.5V686.6M413.5 676.5V698M418.5 709.2V715.3M419.5 705.1V709.2M421.5 702.3V714.4M422.5 696V702.3M425.5 699.9V706.2M426.5 699.3V700.3M428.5 690.1V700.1M429.5 669.1V690.1M431.5 665V680.3M432.5 661.3V665M433.5 648V661.3M434.5 640.7V648M435.5 638.7V640.7M436.5 619.4V638.7M437.5 587.2V619.4M438.5 576.9V587.2M442.5 616V621.4M443.5 612.3V616M445.5 608.6V619M448.5 616.3V623.9M449.5 607.9V616.3M451.5 613.7V614.7M452.5 605.2V613.7M453.5 585.8V605.2M454.5 577.6V585.8M458.5 577.9V600.1M459.5 562.2V577.9M460.5 549.8V562.2M462.5 537.5V556.6M463.5 525.3V537.5M464.5 513.3V525.3M465.5 505.3V513.3M468.5 519.3V526.9M469.5 496.2V519.3M472.5 508.5V528.2M475.5 507.8V527.5M476.5 495.1V507.8M477.5 471V495.1M478.5 452.2V471M479.5 435.8V452.2M480.5 418.8V435.8M481.5 416.1V418.8M486.5 458.4V460.5M487.5 448.7V458.4M493.5 491.6V516.1M494.5 469.8V491.6M495.5 459.1V469.8M496.5 448.4V459.1M497.5 435.8V448.4M498.5 422.1V435.8M501.5 421.8V432.6M503.5 412.3V427.9M504.5 404.3V412.3M505.5 392.9V404.3M506.5 374V392.9M507.5 365.4V374M508.5 354.8V365.4M509.5 338.3V354.8M510.5 335.7V338.3M512.5 352.9V369.1M513.5 333.1V352.9M514.5 322.2V333.1M519.5 374.6V385.6M524.5 418.8V424.2M525.5 417.8V418.8M526.5 416V417.8M527.5 402.4V416M528.5 384V402.4M531.5 397V407.3M532.5 383.5V397M533.5 373V383.5M534.5 364.8V373M537.5 397.6V401.2M538.5 373.3V397.6M542.5 391.6V403M543.5 377.1V391.6M544.5 375.6V377.1M546.5 359V378M547.5 343.4V359M548.5 333.1V343.4M549.5 318.1V333.1M550.5 315.8V318.1M551.5 308.3V315.8M552.5 302.2V308.3M553.5 272.7V302.2M554.5 265.7V272.7M555.5 262.8V265.7M559.5 304.5V305.5M562.5 308.2V315.7M563.5 290.5V308.2M564.5 285.9V290.5M565.5 270.7V285.9M570.5 314.9V332.3M571.5 314.2V315.2M581.5 411.1V415.1M582.5 394.1V411.1M583.5 381.2V394.1M584.5 369.8V381.2M585.5 362.8V369.8M587.5 364.5V389.3M588.5 352.3V364.5M592.5 390V396.5M595.5 403.9V404.9M598.5 426V432.7M600.5 427.1V434M601.5 411.3V427.1M602.5 407.8V411.3M604.5 406V424.2M605.5 393.7V406M606.5 382.7V393.7M612.5 408.2V419.4M613.5 397.9V408.2M614.5 386.2V397.9M615.5 375.8V386.2M617.5 373.6V392.8M618.5 349.7V373.6M619.5 334.8V349.7M620.5 328.5V334.8M621.5 318.8V328.5M624.5 318.7V337.2M626.5 348.3V356.3M627.5 335.9V348.3M630.5 347.6V358.5M631.5 332.9V347.6M632.5 328.4V332.9M634.5 320.9V334.1M637.5 335.6V341.8M638.5 332.5V335.6M642.5 346.8V357.6M643.5 341.3V346.8M644.5 331.2V341.3M645.5 317.4V331.2M646.5 298.7V317.4M647.5 284.1V298.7M650.5 296.3V300M654.5 322.9V325M655.5 313.9V322.9M656.5 306.1V313.9M657.5 297.7V306.1M658.5 294.9V297.7M661.5 287.2V298.1M662.5 278.1V287.2M664.5 268.3V278.8M665.5 258.6V268.3M666.5 253.6V258.6M670.5 266.8V267.8M673.5 280.8V284.8M674.5 270.4V280.8M675.5 263.8V270.4M676.5 248.2V263.8M677.5 240.7V248.2M679.5 241.1V255M682.5 256.8V260.6M683.5 255.7V256.8M684.5 239.2V255.7M685.5 225.1V239.2M686.5 205.6V225.1M687.5 202.7V205.6M689.5 192.5V206.8M690.5 181.5V192.5M691.5 169.3V181.5M692.5 158.3V169.3M693.5 156.1V158.3M694.5 150.4V156.1M698.5 155.5V174.9M699.5 145.6V155.5M700.5 141.6V145.6M703.5 148.8V150.1M705.5 154.5V173.6M706.5 136.4V154.5M707.5 107V136.4M708.5 82.7V107M709.5 80.8V82.7M710.5 73.8V80.8M711.5 50.5V73.8M712.5 44.2V50.5M713.5 39V44.2M716.5 89.5V94.9M717.5 68.7V89.5M718.5 65.9V68.7M720.5 73.4V93.4M722.5 64.4V74.4M723.5 45.9V64.4M724.5 38.4V45.9M734.5 157.7V182.8M740.5 340.1V358.7M741.5 332.1V340.1M744.5 287.5V343.6M745.5 218V287.5M746.5 211.4V218M751.5 328.3V332.8M752.5 324.8V328.3M755.5 347.3V362.3M756.5 322.9V347.3M757.5 261V322.9M761.5 299.1V311M762.5 279V299.1M763.5 262V279M765.5 229.1V267.1M766.5 208.2V229.1M769.5 214.2V234.7M770.5 213.5V214.5M772.5 206.8V227.9M773.5 202.4V206.8M775.5 197.5V213.8M777.5 201.8V210.9M778.5 190.2V201.8M779.5 171.7V190.2M780.5 154.7V171.7M782.5 162.9V166.5M783.5 143V162.9M784.5 135.2V143M785.5 134.5V135.5M787.5 147V161.4M788.5 137.1V147M789.5 132V137.1M793.5 182V189.5M794.5 178.5V182M802.5 245.3V264.3M803.5 239.8V245.3M806.5 263V275.1M815.5 389.7V410.6M816.5 369.7V389.7M817.5 360.6V369.7M818.5 354.8V360.6M819.5 346.5V354.8M820.5 322.6V346.5M821.5 296.6V322.6M825.5 345V346M826.5 331V345M827.5 313V331M828.5 290.4V313M829.5 271.6V290.4M830.5 244.1V271.6M831.5 214V244.1M832.5 209.1V214M836.5 242.3V260M839.5 268.2V300M843.5 285V313.9M844.5 253.7V285M845.5 239.9V253.7M848.5 261.6V271M849.5 247.6V261.6M850.5 229.5V247.6M851.5 210.2V229.5M852.5 204.6V210.2M853.5 198V204.6M854.5 180V198M855.5 177.8V180M856.5 152.1V177.8M857.5 138.4V152.1M860.5 210.9V215.3M861.5 168.6V210.9M862.5 160.9V168.6M864.5 198.9V205.2M865.5 172.2V198.9M868.5 179.4V202M871.5 184.1V191.5M872.5 176.8V184.1M878.5 240.9V284.1M879.5 230.2V240.9M880.5 205.5V230.2M881.5 203.9V205.5M888.5 312V315.3M892.5 312.5V339.7M893.5 291.7V312.5M894.5 288.3V291.7M896.5 275.9V290.6M899.5 294.4V299.2M900.5 286.8V294.4M901.5 284.7V286.8M904.5 291.1V305.2M910.5 349.7V363.1M911.5 337.6V349.7M916.5 381.1V394.4M917.5 367.2V381.1M919.5 367V372.4M920.5 350.2V367M921.5 338.1V350.2M922.5 316.3V338.1M923.5 307.6V316.3M925.5 309.1V313.8M927.5 306.5V319.4M931.5 325.2V340.2M932.5 317V325.2M934.5 304.6V318.9M935.5 289.6V304.6M937.5 287.7V293.2M938.5 284.9V287.7M939.5 279.4V284.9M940.5 262V279.4M941.5 258.4V262M949.5 314.5V331.9M950.5 303.1V314.5M953.5 301.3V305.1M956.5 306V325M957.5 287.2V306M958.5 276.1V287.2M962.5 307.7V333.8M963.5 294.5V307.7M964.5 289.7V294.5M965.5 280.8V289.7M966.5 275.9V280.8M969.5 296V300M970.5 278.7V296M971.5 260.2V278.7M972.5 258.7V260.2M974.5 261.2V262.2M975.5 251.6V261.2M978.5 270.1V271.1M979.5 263.5V270.1M980.5 256.3V263.5M981.5 247.3V256.3M982.5 238.3V247.3M983.5 235.4V238.3M988.5 265.3V266.6M989.5 254.4V265.3M990.5 250.1V254.4M991.5 245.3V250.1M992.5 240.1V245.3M993.5 227V240.1M997.5 232V246.3M1000.5 237.2V238.2M1001.5 235.4V237.2M1006.5 262V263M1007.5 253.5V262M1009.5 258.1V259.5M1013.5 277.8V278.8M1021.5 342V358.6M1022.5 337.2V342M1026.5 360.9V361.9M1027.5 356.6V360.9M1028.5 356.5V357.5M1036.5 462.2V467.7M1037.5 460.8V462.2M1042.5 506.2V537.1M1043.5 495.2V506.2M1046.5 507.8V528.6M1047.5 483.2V507.8M1048.5 471.8V483.2M1050.5 480.6V487.1M1051.5 471.6V480.6M1052.5 459.1V471.6M1053.5 458.7V459.7M1057.5 481.1V486.1M1060.5 485.3V500M1061.5 473.4V485.3M1062.5 462.8V473.4M1065.5 466.3V480.1M1069.5 464.8V481M1073.5 514.1V522M1076.5 526V535.4M1077.5 508.3V526M1078.5 499.4V508.3M1080.5 502.9V504.2M1081.5 498.5V502.9M1082.5 487.8V498.5M1083.5 480.7V487.8M1084.5 479.5V480.7M1088.5 500.6V505M1089.5 481.5V500.6M1090.5 467.6V481.5M1091.5 459.4V467.6M1094.5 462.5V473.3M1095.5 457.9V462.5M1099.5 473.2V479.4M1102.5 484V485M1103.5 481.9V484M1106.5 491.3V497M1107.5 477.8V491.3M1109.5 471.5V481M1112.5 471.8V483.5M1119.5 501.1V509.7M1120.5 486.2V501.1M1123.5 534V536M1127.5 547V555M1128.5 537.3V547M1129.5 527.9V537.3M1130.5 520V527.9M1131.5 518.6V520M1135.5 537V542.5M1136.5 530V537M1137.5 518.8V530M1138.5 507.4V518.8M1141.5 514.8V528.3M1142.5 503.2V514.8M1143.5 495.8V503.2M1144.5 480.2V495.8M1145.5 477.1V480.2M1146.5 475.5V477.1M1148.5 470.7V480M1150.5 471.6V476.5M1151.5 456V471.6M1152.5 450.7V456M1153.5 437.9V450.7M1154.5 420.3V437.9M1155.5 419.8V420.8M1157.5 426.9V430.5M1158.5 411.7V426.9M1159.5 398.8V411.7M1163.5 420.2V427.9M1167.5 435.5V442M1168.5 426.6V435.5M1169.5 416.2V426.6M1170.5 414.1V416.2M1172.5 422.3V428.3M1173.5 411.9V422.3M1174.5 401.2V411.9M1175.5 398.1V401.2M1176.5 378.8V398.1M1177.5 357.2V378.8M1180.5 370.6V375.5M1182.5 372.8V373.8M1185.5 363V376.7M1188.5 370.6V377.4M1192.5 406.8V407.8M1194.5 430.9V435.3M1195.5 428.3V430.9M1196.5 427.4V428.4M1198.5 432.2V444.5M1199.5 428.2V432.2M1200.5 427.8V428.8M1204.5 445.8V455.9M1205.5 436.1V445.8M1206.5 431.4V436.1M1208.5 439.6V445.8M1209.5 437.6V439.6M1212.5 448.6V453.3M1216.5 462.4V470M1217.5 461.2V462.4M1219.5 466.1V470M1220.5 456V466.1M1221.5 451.5V456M1223.5 456.5V459.6M1226.5 452.8V460.2M1229.5 467.6V475.2M1230.5 460.8V467.6M1232.5 465.8V467.8M1235.5 471.8V475.4M1238.5 476.7V478.2M1240.5 482.2V483.7M1241.5 476.7V482.2M1242.5 469.1V476.7M1243.5 463.1V469.1M1247.5 471V478.7"/>
    <path stroke="#ec4a5b" d="M3.5 368V371.3M4.5 371.3V377.6M6.5 368.3V391.5M7.5 391.5V425.8M8.5 425.8V438.1M10.5 435.1V455.2M11.5 455.2V462.9M12.5 462.9V474.6M13.5 474.6V482M19.5 404.6V416.6M20.5 416.6V435M23.5 423.6V442.4M24.5 442.4V456.2M25.5 456.2V460.4M26.5 460.4V462.7M27.5 462.7V469.4M28.5 469.4V474.4M32.5 457.4V459.4M33.5 459.4V478.2M34.5 478.2V479.4M36.5 476V478.1M37.5 478.1V483.3M43.5 445.5V448.7M45.5 442.4V445.2M46.5 445.2V458.7M49.5 424.2V430.2M50.5 430.2V432.6M52.5 420.1V423.1M53.5 423.1V437.7M58.5 354.6V370M59.5 370V381.2M63.5 357V358M64.5 357.7V376.2M72.5 311.6V318.1M73.5 318.1V331.9M74.5 331.9V346.2M75.5 346.2V361.1M76.5 361.1V370.4M77.5 370.4V378.2M85.5 341.9V350.5M90.5 278.9V292M95.5 244.8V253M98.5 248.4V292.3M105.5 252.8V256.1M109.5 239.5V285.8M110.5 285.8V305.1M111.5 305.1V308.5M113.5 301.8V314.3M117.5 274.5V275.9M119.5 260.5V261.5M120.5 261.2V267.6M122.5 263V266.5M123.5 266.5V278.5M124.5 278.5V287.8M128.5 277.5V278.5M129.5 277.9V279.7M130.5 279.7V305.5M131.5 305.5V319.5M135.5 291.1V292.6M136.5 292.6V309.1M140.5 307.3V308.8M141.5 308.8V327.5M142.5 327.5V338.1M145.5 335.4V338M146.5 338V343M147.5 343V349.4M151.5 332.4V333.4M156.5 298.5V301.2M157.5 301.2V305M160.5 303.8V309.7M161.5 309.7V320.8M162.5 320.8V323.7M163.5 323.7V327.6M164.5 327.6V332.8M165.5 332.8V339.3M171.5 305.2V338.7M172.5 338.7V347.4M175.5 342.5V346.7M176.5 346.7V348.1M177.5 348.1V360.5M178.5 360.5V408.5M179.5 408.5V423.4M180.5 423.4V440.4M181.5 440.4V452.4M183.5 439.8V468.4M188.5 438.5V447.8M189.5 447.8V469.6M194.5 439.4V445.7M195.5 445.7V460.5M196.5 460.5V474.6M199.5 463.7V472.1M201.5 469.9V492.2M202.5 492.2V523.3M203.5 523.3V542M204.5 542V543M207.5 509V516.9M212.5 475.9V482.4M213.5 482.4V492.3M217.5 439.1V453.6M218.5 453.6V460.4M219.5 460.4V477.5M220.5 477.5V481.5M221.5 481.5V483.8M222.5 483.8V484.8M223.5 484.5V501.1M224.5 501.1V519.7M225.5 519.7V522.9M227.5 485.4V507.5M228.5 507.5V514.8M231.5 497.5V511.2M232.5 511.2V512.9M234.5 511.3V523.1M240.5 488.3V491.4M242.5 482.2V485.8M243.5 485.8V491.5M244.5 491.5V499.4M245.5 499.4V507M247.5 502.7V514.1M249.5 488.5V489.5M252.5 483.4V499.2M257.5 429.4V439.2M261.5 387.1V407.4M262.5 407.4V412.4M263.5 412.4V421.9M264.5 421.9V434.7M265.5 434.7V445.8M266.5 445.8V446.8M269.5 413.7V434.6M272.5 416.9V430M273.5 430V449.5M274.5 449.5V461.7M275.5 461.7V468.2M276.5 468.2V474.4M277.5 474.4V490.3M278.5 490.3V506.2M279.5 506.2V507.2M281.5 497.7V518.9M282.5 518.9V519.9M284.5 515V520.4M285.5 520.4V530.8M286.5 530.8V537.4M288.5 514.2V522.1M289.5 522.1V534.1M290.5 534.1V548.8M291.5 548.8V563.4M293.5 541.4V546.3M294.5 546.3V558.6M295.5 558.6V572.3M300.5 517.9V529.1M301.5 529.1V549M303.5 532.1V535.1M304.5 535.1V552.9M305.5 552.9V553.9M309.5 507.9V523.7M310.5 523.7V542.1M311.5 542.1V546.9M312.5 546.9V555.2M313.5 555.2V564.1M314.5 564.1V573.9M315.5 573.9V589.7M317.5 581.2V582.2M320.5 554.9V572.9M321.5 572.9V584.1M322.5 584.1V599.7M323.5 599.7V606.5M326.5 584.4V605.9M327.5 605.9V619.9M330.5 609.8V616.7M331.5 616.7V624.6M333.5 622.4V643.3M334.5 643.3V667.6M335.5 667.6V687.6M340.5 618.6V624.7M341.5 624.7V635.2M342.5 635.2V636.3M344.5 634.6V648M346.5 641.7V676.2M349.5 670.2V677M350.5 677V682.6M351.5 682.6V712.2M352.5 712.2V724.8M355.5 700.1V711.2M356.5 711.2V729.6M359.5 710.4V717.6M360.5 717.6V726.3M361.5 726.3V736.9M368.5 635.4V651.9M369.5 651.9V660.3M371.5 645.1V658.4M372.5 658.4V678.8M375.5 651.9V655.9M376.5 655.9V680.4M377.5 680.4V695.2M379.5 684.1V697.6M381.5 679.7V684.5M382.5 684.5V693.6M383.5 693.6V698.8M385.5 696V718.1M386.5 718.1V729.4M388.5 721.9V722.9M389.5 722.7V736.6M397.5 665V671.9M400.5 656.4V659.9M401.5 659.9V668M403.5 662.5V675.1M404.5 675.1V680.2M405.5 680.2V683.9M407.5 681.8V702.6M409.5 686.3V691.3M412.5 682.5V698M414.5 676.5V684.5M415.5 684.5V690.8M416.5 690.8V699M417.5 699V715.3M420.5 705.1V714.4M423.5 696V698.4M424.5 698.4V706.2M427.5 699.3V700.3M430.5 669.1V680.3M439.5 576.9V584.1M440.5 584.1V606.2M441.5 606.2V621.4M444.5 612.3V619M446.5 608.6V612.9M447.5 612.9V623.9M450.5 607.9V614.5M455.5 577.6V583.9M456.5 583.9V594.5M457.5 594.5V600.1M461.5 549.8V556.6M466.5 505.3V520.2M467.5 520.2V526.9M470.5 496.2V527.3M471.5 527.3V528.3M473.5 508.5V521.4M474.5 521.4V527.5M482.5 416.1V426M483.5 426V442.2M484.5 442.2V452M485.5 452V460.5M488.5 448.7V453M489.5 453V466.5M490.5 466.5V488.8M491.5 488.8V511.9M492.5 511.9V516.1M499.5 422.1V431.5M500.5 431.5V432.6M502.5 421.8V427.9M511.5 335.7V369.1M515.5 322.2V346.6M516.5 346.6V359.9M517.5 359.9V381.9M518.5 381.9V385.6M520.5 374.6V386.7M521.5 386.7V398.4M522.5 398.4V408.6M523.5 408.6V424.2M529.5 384V386.8M530.5 386.8V407.3M535.5 364.8V386.9M536.5 386.9V401.2M539.5 373.3V380.8M540.5 380.8V393.7M541.5 393.7V403M545.5 375.6V378M556.5 262.8V268.8M557.5 268.8V302.5M558.5 302.5V304.8M560.5 304.5V310M561.5 310V315.7M566.5 270.7V282M567.5 282V313.1M568.5 313.1V326.3M569.5 326.3V332.3M572.5 314.2V326.4M573.5 326.4V330.7M574.5 330.7V351.4M575.5 351.4V364.2M576.5 364.2V380.3M577.5 380.3V387.4M578.5 387.4V398.4M579.5 398.4V408.4M580.5 408.4V415.1M586.5 362.8V389.3M589.5 352.3V365.4M590.5 365.4V381.7M591.5 381.7V396.5M593.5 390V404.6M594.5 404.6V405.6M596.5 403.9V421.9M597.5 421.9V432.7M599.5 426V434M603.5 407.8V424.2M607.5 382.7V390.5M608.5 390.5V399.3M609.5 399.3V408.4M610.5 408.4V415.6M611.5 415.6V419.4M616.5 375.8V392.8M622.5 318.8V327.2M623.5 327.2V337.2M625.5 318.7V356.3M628.5 335.9V337.1M629.5 337.1V358.5M633.5 328.4V334.1M635.5 320.9V336.5M636.5 336.5V341.8M639.5 332.5V347.7M640.5 347.7V355.8M641.5 355.8V357.6M648.5 284.1V293.5M649.5 293.5V300M651.5 296.3V298.3M652.5 298.3V316.4M653.5 316.4V325M659.5 294.9V297.2M660.5 297.2V298.2M663.5 278.1V279.1M667.5 253.6V261.5M668.5 261.5V266M669.5 266V267.7M671.5 266.8V274.4M672.5 274.4V284.8M678.5 240.7V255M680.5 241.1V259.4M681.5 259.4V260.6M688.5 202.7V206.8M695.5 150.4V158.9M696.5 158.9V174.7M697.5 174.7V175.7M701.5 141.6V148.1M702.5 148.1V150.1M704.5 148.8V173.6M714.5 39V63.2M715.5 63.2V94.9M719.5 65.9V93.4M721.5 73.4V74.4M725.5 38.4V49.1M726.5 49.1V64.8M727.5 64.8V77.1M728.5 77.1V146.3M729.5 146.3V152.2M730.5 152.2V156.6M731.5 156.6V171.1M732.5 171.1V182.3M733.5 182.3V183.3M735.5 157.7V249.5M736.5 249.5V272.9M737.5 272.9V287.8M738.5 287.8V343M739.5 343V358.7M742.5 332.1V338.7M743.5 338.7V343.6M747.5 211.4V229.7M748.5 229.7V280.7M749.5 280.7V307.5M750.5 307.5V332.8M753.5 324.8V355.6M754.5 355.6V362.3M758.5 261V268.1M759.5 268.1V285.3M760.5 285.3V311M764.5 262V267.1M767.5 208.2V226.4M768.5 226.4V234.7M771.5 213.5V227.9M774.5 202.4V213.8M776.5 197.5V210.9M781.5 154.7V166.5M786.5 134.5V161.4M790.5 132V144.1M791.5 144.1V180M792.5 180V189.5M795.5 178.5V183.1M796.5 183.1V195.5M797.5 195.5V212.9M798.5 212.9V229.5M799.5 229.5V248.8M800.5 248.8V263.6M801.5 263.6V264.6M804.5 239.8V267.5M805.5 267.5V275.1M807.5 263V267.3M808.5 267.3V272.5M809.5 272.5V279.4M810.5 279.4V301.7M811.5 301.7V358M812.5 358V382.2M813.5 382.2V400.9M814.5 400.9V410.6M822.5 296.6V303M823.5 303V329.3M824.5 329.3V345.3M833.5 209.1V210.5M834.5 210.5V232.7M835.5 232.7V260M837.5 242.3V287.6M838.5 287.6V300M840.5 268.2V299.7M841.5 299.7V304.6M842.5 304.6V313.9M846.5 239.9V251.1M847.5 251.1V271M858.5 138.4V198.9M859.5 198.9V215.3M863.5 160.9V205.2M866.5 172.2V197.3M867.5 197.3V202M869.5 179.4V187.4M870.5 187.4V191.5M873.5 176.8V221.5M874.5 221.5V251M875.5 251V265.9M876.5 265.9V275.7M877.5 275.7V284.1M882.5 203.9V243.1M883.5 243.1V264.9M884.5 264.9V274.8M885.5 274.8V286.7M886.5 286.7V296.4M887.5 296.4V315.3M889.5 312V315.7M890.5 315.7V332.5M891.5 332.5V339.7M895.5 288.3V290.6M897.5 275.9V292.1M898.5 292.1V299.2M902.5 284.7V300.4M903.5 300.4V305.2M905.5 291.1V307.7M906.5 307.7V322M907.5 322V343.2M908.5 343.2V361.1M909.5 361.1V363.1M912.5 337.6V341.5M913.5 341.5V357.9M914.5 357.9V382.1M915.5 382.1V394.4M918.5 367.2V372.4M924.5 307.6V313.8M926.5 309.1V319.4M928.5 306.5V316.8M929.5 316.8V332.7M930.5 332.7V340.2M933.5 317V318.9M936.5 289.6V293.2M942.5 258.4V272.4M943.5 272.4V282M944.5 282V297.6M945.5 297.6V313.7M946.5 313.7V318.5M947.5 318.5V327.7M948.5 327.7V331.9M951.5 303.1V304.1M952.5 303.9V305.1M954.5 301.3V319.3M955.5 319.3V325M959.5 276.1V301.6M960.5 301.6V313.5M961.5 313.5V333.8M967.5 275.9V283.6M968.5 283.6V300M973.5 258.7V262.2M976.5 251.6V261M977.5 261V270.5M984.5 235.4V240.6M985.5 240.6V257.4M986.5 257.4V259.9M987.5 259.9V266.6M994.5 227V234.2M995.5 234.2V242.9M996.5 242.9V246.3M998.5 232V235.3M999.5 235.3V237.5M1002.5 235.4V247.3M1003.5 247.3V252.2M1004.5 252.2V256.3M1005.5 256.3V262.7M1008.5 253.5V259.5M1010.5 258.1V266.3M1011.5 266.3V275M1012.5 275V278.4M1014.5 277.8V281.7M1015.5 281.7V293.9M1016.5 293.9V305.1M1017.5 305.1V321.5M1018.5 321.5V332.4M1019.5 332.4V344M1020.5 344V358.6M1023.5 337.2V344.5M1024.5 344.5V355.9M1025.5 355.9V360.9M1029.5 356.5V376.7M1030.5 376.7V383.7M1031.5 383.7V396.5M1032.5 396.5V413.5M1033.5 413.5V426.6M1034.5 426.6V445.8M1035.5 445.8V467.7M1038.5 460.8V472.5M1039.5 472.5V479.7M1040.5 479.7V491.6M1041.5 491.6V537.1M1044.5 495.2V518.5M1045.5 518.5V528.6M1049.5 471.8V487.1M1054.5 458.7V468.6M1055.5 468.6V480.3M1056.5 480.3V486.1M1058.5 481.1V493.4M1059.5 493.4V500M1063.5 462.8V473.4M1064.5 473.4V480.1M1066.5 466.3V470.9M1067.5 470.9V480.9M1068.5 480.9V481.9M1070.5 464.8V475.7M1071.5 475.7V504.5M1072.5 504.5V522M1074.5 514.1V529.4M1075.5 529.4V535.4M1079.5 499.4V504.2M1085.5 479.5V486.6M1086.5 486.6V490.6M1087.5 490.6V505M1092.5 459.4V463.9M1093.5 463.9V473.3M1096.5 457.9V462.1M1097.5 462.1V468.2M1098.5 468.2V479.4M1100.5 473.2V479.2M1101.5 479.2V484.9M1104.5 481.9V492.3M1105.5 492.3V497M1108.5 477.8V481M1110.5 471.5V474.3M1111.5 474.3V483.5M1113.5 471.8V472.8M1114.5 472.2V473.6M1115.5 473.6V476.9M1116.5 476.9V489.6M1117.5 489.6V500.7M1118.5 500.7V509.7M1121.5 486.2V518.3M1122.5 518.3V536M1124.5 534V537.7M1125.5 537.7V548.9M1126.5 548.9V555M1132.5 518.6V528.4M1133.5 528.4V538.7M1134.5 538.7V542.5M1139.5 507.4V519.7M1140.5 519.7V528.3M1147.5 475.5V480M1149.5 470.7V476.5M1156.5 419.8V430.5M1160.5 398.8V401.3M1161.5 401.3V414.5M1162.5 414.5V427.9M1164.5 420.2V421.2M1165.5 420.5V431.1M1166.5 431.1V442M1171.5 414.1V428.3M1178.5 357.2V374.4M1179.5 374.4V375.5M1181.5 370.6V373.4M1183.5 372.8V373.9M1184.5 373.9V376.7M1186.5 363V376M1187.5 376V377.4M1189.5 370.6V384.8M1190.5 384.8V396.5M1191.5 396.5V407.4M1193.5 406.8V435.3M1197.5 427.4V444.5M1201.5 427.8V430.5M1202.5 430.5V441.5M1203.5 441.5V455.9M1207.5 431.4V445.8M1210.5 437.6V448.4M1211.5 448.4V453.3M1213.5 448.6V454.5M1214.5 454.5V461.7M1215.5 461.7V470M1218.5 461.2V470M1222.5 451.5V459.6M1224.5 456.5V458.2M1225.5 458.2V460.2M1227.5 452.8V469.8M1228.5 469.8V475.2M1231.5 460.8V467.8M1233.5 465.8V472.7M1234.5 472.7V475.4M1236.5 471.8V476.9M1237.5 476.9V478.2M1239.5 476.7V483.7M1244.5 463.1V466.5M1245.5 466.5V473.7M1246.5 473.7V478.7M1248.5 471V476.4M1249.5 476.4V483.7M1250.5 483.7V484.7M1251.5 484.2V485.2M1252.5 484.4V491.3M1253.5 491.3V492.5M1254.5 492.5V493.5"/>
  </g>
  <!-- last price dotted line -->
  <line x1="-1" y1="492.5" x2="1357" y2="492.5" stroke="#e8364c" stroke-width="1" stroke-dasharray="2 1" shape-rendering="crispEdges"/>
  <!-- crosshair -->
  <line x1="-1" y1="505.5" x2="1340" y2="505.5" stroke="#828282" stroke-width="1" stroke-dasharray="5 6"/>
  <line x1="1264.5" y1="6" x2="1264.5" y2="793" stroke="#828282" stroke-width="1" stroke-dasharray="5 6"/>
  <!-- axes -->
  <g stroke="#4f4f4f" stroke-width="1" shape-rendering="crispEdges">
    <line x1="1357.5" y1="0" x2="1357.5" y2="814"/>
    <line x1="0" y1="792.5" x2="1413" y2="792.5"/>
    <line x1="35.5" y1="792" x2="35.5" y2="797"/><line x1="130.5" y1="792" x2="130.5" y2="797"/><line x1="225.5" y1="792" x2="225.5" y2="797"/><line x1="320.5" y1="792" x2="320.5" y2="797"/><line x1="416.5" y1="792" x2="416.5" y2="797"/><line x1="511.5" y1="792" x2="511.5" y2="797"/><line x1="606.5" y1="792" x2="606.5" y2="797"/><line x1="701.5" y1="792" x2="701.5" y2="797"/><line x1="796.5" y1="792" x2="796.5" y2="797"/><line x1="891.5" y1="792" x2="891.5" y2="797"/><line x1="987.5" y1="792" x2="987.5" y2="797"/><line x1="1081.5" y1="792" x2="1081.5" y2="797"/><line x1="1176.5" y1="792" x2="1176.5" y2="797"/><line x1="1357" y1="38.5" x2="1362" y2="38.5"/><line x1="1357" y1="84.5" x2="1362" y2="84.5"/><line x1="1357" y1="130.5" x2="1362" y2="130.5"/><line x1="1357" y1="176.5" x2="1362" y2="176.5"/><line x1="1357" y1="222.5" x2="1362" y2="222.5"/><line x1="1357" y1="268.5" x2="1362" y2="268.5"/><line x1="1357" y1="314.5" x2="1362" y2="314.5"/><line x1="1357" y1="359.5" x2="1362" y2="359.5"/><line x1="1357" y1="405.5" x2="1362" y2="405.5"/><line x1="1357" y1="451.5" x2="1362" y2="451.5"/><line x1="1357" y1="497.5" x2="1362" y2="497.5"/><line x1="1357" y1="543.5" x2="1362" y2="543.5"/><line x1="1357" y1="589.5" x2="1362" y2="589.5"/><line x1="1357" y1="635.5" x2="1362" y2="635.5"/><line x1="1357" y1="681.5" x2="1362" y2="681.5"/><line x1="1357" y1="726.5" x2="1362" y2="726.5"/><line x1="1357" y1="772.5" x2="1362" y2="772.5"/>
  </g>
</svg>
<div class="t ax" style="left:1366px;top:34.1px">1.60000</div>
<div class="t ax" style="left:1366px;top:80.1px">1.55000</div>
<div class="t ax" style="left:1366px;top:126.1px">1.50000</div>
<div class="t ax" style="left:1366px;top:172.1px">1.45000</div>
<div class="t ax" style="left:1366px;top:218.1px">1.40000</div>
<div class="t ax" style="left:1366px;top:264.1px">1.35000</div>
<div class="t ax" style="left:1366px;top:310.1px">1.30000</div>
<div class="t ax" style="left:1366px;top:355.1px">1.25000</div>
<div class="t ax" style="left:1366px;top:401.1px">1.20000</div>
<div class="t ax" style="left:1366px;top:447.1px">1.15000</div>
<div class="t ax" style="left:1366px;top:493.1px">1.10000</div>
<div class="t ax" style="left:1366px;top:539.1px">1.05000</div>
<div class="t ax" style="left:1366px;top:585.1px">1.00000</div>
<div class="t ax" style="left:1366px;top:631.1px">0.95000</div>
<div class="t ax" style="left:1366px;top:677.1px">0.90000</div>
<div class="t ax" style="left:1366px;top:722.1px">0.85000</div>
<div class="t ax" style="left:1366px;top:768.1px">0.80000</div>

<div class="t yr" style="left:35.5px;top:802px">1994</div>
<div class="t yr" style="left:130.5px;top:802px">1996</div>
<div class="t yr" style="left:225.5px;top:802px">1998</div>
<div class="t yr" style="left:320.5px;top:802px">2000</div>
<div class="t yr" style="left:416.5px;top:802px">2002</div>
<div class="t yr" style="left:511.5px;top:802px">2004</div>
<div class="t yr" style="left:606.5px;top:802px">2006</div>
<div class="t yr" style="left:701.5px;top:802px">2008</div>
<div class="t yr" style="left:796.5px;top:802px">2010</div>
<div class="t yr" style="left:891.5px;top:802px">2012</div>
<div class="t yr" style="left:987.5px;top:802px">2014</div>
<div class="t yr" style="left:1081.5px;top:802px">2016</div>
<div class="t yr" style="left:1176.5px;top:802px">2018</div>

<!-- annotation shapes -->
<svg id="anno" width="1413" height="814" viewBox="0 0 1413 814">
  <defs>
    <filter id="sh" x="-10%" y="-10%" width="120%" height="130%">
      <feGaussianBlur in="SourceAlpha" stdDeviation="2"/>
      <feOffset dx="-0.5" dy="3" result="b"/>
      <feComponentTransfer><feFuncA type="linear" slope="0.5"/></feComponentTransfer>
      <feMerge><feMergeNode/><feMergeNode in="SourceGraphic"/></feMerge>
    </filter>
    <filter id="sh2" x="-20%" y="-20%" width="140%" height="140%">
      <feGaussianBlur in="SourceAlpha" stdDeviation="2"/>
      <feOffset dx="-0.5" dy="3.2" result="b"/>
      <feComponentTransfer><feFuncA type="linear" slope="0.5"/></feComponentTransfer>
      <feMerge><feMergeNode/><feMergeNode in="SourceGraphic"/></feMerge>
    </filter>
  </defs>
  <g filter="url(#sh2)" fill="none" stroke="#5a1a89" stroke-width="2.9">
    <ellipse cx="950.4" cy="304" rx="113" ry="37.4" transform="rotate(-63 950.4 304)"/>
    <ellipse cx="1225.6" cy="457.8" rx="54.4" ry="22.9" transform="rotate(43.9 1225.6 457.8)"/>
  </g>
  <g filter="url(#sh)" fill="#622389">
    <path d="M741 491.3H938.5A35 36.6 0 0 1 966.3 505.5L1103 490.8L972.8 535.5A35 36.6 0 0 1 938.5 564.5H741A34.3 36.6 0 0 1 741 491.3Z"/>
    <path d="M1014 604.3H1083A50 50 0 0 1 1104 609L1264.5 505.5L1131.6 645A50 53 0 0 1 1083 711H1014A50 53.3 0 0 1 1014 604.3Z"/>
  </g>
</svg>
<div class="t callout" style="left:707px;width:266px;top:514px;">Референдум</div>
<div class="t callout" style="left:962.5px;width:169px;top:624px;font-size:28.5px;line-height:33px;white-space:normal;">Выход<br>из ЕС</div>

<!-- header -->
<svg width="30" height="30" viewBox="0 0 30 30" style="left:0;top:0"><path d="M14 8H26L22.5 14.5L26 21H14Z" fill="#c3c5cd"/></svg>
<div class="t tt" style="left:29.8px;letter-spacing:-0.45px">Евро</div>
<div class="t tt" style="left:73.2px;">/</div>
<div class="t tt" style="left:86.3px;letter-spacing:0.05px">Доллар</div>
<div class="t tt" style="left:148.6px;transform:scaleX(0.945);transform-origin:0 0">США</div>
<div class="t tt" style="left:188.4px;color:#9a9a9a;-webkit-text-stroke:0;">·</div>
<div class="t tt" style="left:196.3px;transform:scaleX(0.92);transform-origin:0 0">1Н</div>
<div class="t tt" style="left:219.2px;color:#9a9a9a;-webkit-text-stroke:0;">·</div>
<div class="t tt" style="left:227.8px;transform:scaleX(0.9);transform-origin:0 0">FXCM</div>
<svg width="12" height="10" viewBox="0 0 12 10" style="left:272.5px;top:7.8px"><path d="M1.5 3L5 6.3L8.5 3" fill="none" stroke="#444" stroke-width="1.7"/></svg>
<div class="t hd" style="left:301.5px;letter-spacing:-0.34px">ОТКР</div><div class="t hd hv" style="left:334.5px;letter-spacing:0.3px">1.11500</div>
<div class="t hd" style="left:391.6px;letter-spacing:-0.61px">МАКС</div><div class="t hd hv" style="left:426.5px;letter-spacing:0.3px">1.11638</div>
<div class="t hd" style="left:483.6px;letter-spacing:-0.14px">МИН</div><div class="t hd hv" style="left:512.5px;letter-spacing:0.3px">1.10421</div>
<div class="t hd" style="left:570.4px;letter-spacing:-0.2px">ЗАКР</div><div class="t hd hv" style="left:601.5px;letter-spacing:0.3px">1.10527</div>
<div class="t hd hv" style="left:658.5px;letter-spacing:-0.12px">−0.00846 (−0.76%)</div>

<!-- trade panel -->
<div id="panel">
  <div style="left:0;width:15px;border-right:1px solid #e6e9ee;">
    <svg width="14" height="37" viewBox="0 0 14 37" fill="#d5d8de"><rect x="4" y="13" width="2" height="2"/><rect x="8" y="13" width="2" height="2"/><rect x="4" y="18" width="2" height="2"/><rect x="8" y="18" width="2" height="2"/><rect x="4" y="23" width="2" height="2"/><rect x="8" y="23" width="2" height="2"/></svg>
  </div>
  <div style="left:15px;width:100px;background:#fff0f2;border-right:1px solid #e6e9ee;">
    <div class="t" style="left:7.3px;top:6px;font-size:11.5px;color:#f03e5c;letter-spacing:0.1px;-webkit-text-stroke:0.3px #f03e5c;">ПРОДАЖА</div>
    <div class="t" style="left:7.3px;top:20.3px;font-size:13px;color:#444;-webkit-text-stroke:0.2px #444;">1.1052<span style="font-size:10px;color:#f03e5c;position:relative;top:-5px;">7</span></div>
  </div>
  <div style="left:115px;width:42px;border-right:1px solid #e6e9ee;">
    <div class="t" style="left:0;width:42px;text-align:center;top:14px;font-size:12.5px;color:#8a8a8a;">0.2</div>
  </div>
  <div style="left:157px;width:100px;background:#f0f8ff;border-right:1px solid #e6e9ee;">
    <div class="t" style="left:7.3px;top:6px;font-size:11.5px;color:#2b8fe6;letter-spacing:0.35px;-webkit-text-stroke:0.3px #2b8fe6;">ПОКУПКА</div>
    <div class="t" style="left:7.3px;top:20.3px;font-size:13px;color:#444;-webkit-text-stroke:0.2px #444;">1.1052<span style="font-size:10px;color:#3cb371;position:relative;top:-5px;">9</span></div>
  </div>
  <div style="left:257px;width:37px;border-right:1px solid #e6e9ee;">
    <svg width="36" height="37" viewBox="0 0 36 37"><circle cx="18" cy="19.2" r="9.6" fill="#fff" stroke="#f7931e" stroke-width="1.6"/><rect x="17" y="17.5" width="2" height="6.5" fill="#f7931e"/><rect x="17" y="14" width="2" height="2" fill="#f7931e"/></svg>
  </div>
  <div style="left:294px;width:18px;">
    <svg width="18" height="37" viewBox="0 0 18 37"><line x1="0" y1="19.5" x2="18" y2="19.5" stroke="#e6e9ee"/><path d="M5 10H13M9 6V14M5 29H13" stroke="#555" stroke-width="1.7" fill="none"/></svg>
  </div>
</div>

<!-- alert icon -->
<svg width="20" height="20" viewBox="0 0 20 20" style="left:1333px;top:3px"><circle cx="10" cy="10" r="7.8" fill="#ff9544"/><rect x="9.2" y="5.3" width="1.7" height="6" fill="#fff"/><rect x="9.2" y="12.6" width="1.7" height="1.8" fill="#fff"/></svg>

<!-- price labels -->
<div style="position:absolute;left:1357px;top:484px;width:56px;height:13px;background:#eb4d5c;"></div>
<div class="t ax" style="left:1366px;top:486.7px;color:#fff;-webkit-text-stroke:0.2px #fff;">1.10527</div>
<div style="position:absolute;left:1357px;top:491.8px;width:5px;height:1px;background:#fff;"></div>
<div style="position:absolute;left:1339px;top:497px;width:74px;height:17px;background:#4c525e;"></div>
<div style="position:absolute;left:1356px;top:497px;width:1px;height:17px;background:#fff;"></div>
<div style="position:absolute;left:1357px;top:505px;width:5px;height:1px;background:#fff;"></div>
<svg width="17" height="17" viewBox="0 0 17 17" style="left:1339px;top:497px"><path d="M3.5 8.5H13.5M8.5 3.5V13.5" stroke="#fff" stroke-width="1"/></svg>
<div class="t ax" style="left:1366px;top:500.7px;color:#fff;-webkit-text-stroke:0.2px #fff;">1.09139</div>

<!-- date label -->
<div style="position:absolute;left:1232px;top:793px;width:63px;height:21px;background:#4c525e;"></div>
<div style="position:absolute;left:1264px;top:793px;width:1px;height:4px;background:#fff;"></div>
<div class="t" style="left:1232px;width:64px;text-align:center;top:799.3px;font-size:10.6px;color:#fff;-webkit-text-stroke:0.35px #fff;letter-spacing:0;">04 Ноя '19</div>

<!-- event icon -->
<svg width="34" height="34" viewBox="0 0 34 34" style="left:1239px;top:761px">
  <circle cx="16.45" cy="17" r="7.85" fill="#3d4fa8"/>
  <g fill="#f5c842"><circle cx="16.45" cy="12.4" r=".9"/><circle cx="16.45" cy="21.6" r=".9"/><circle cx="11.85" cy="17" r=".9"/><circle cx="21.05" cy="17" r=".9"/><circle cx="13.2" cy="13.75" r=".9"/><circle cx="13.2" cy="20.25" r=".9"/><circle cx="19.7" cy="20.25" r=".9"/><circle cx="19.7" cy="13.75" r=".9"/></g>
  <circle cx="25.6" cy="9.5" r="7.5" fill="#fff"/>
  <path d="M19.8 6.1A11.3 11.3 0 1 0 27.8 16.5" fill="none" stroke="#f73c5c" stroke-width="1.5"/>
  <line x1="25.5" y1="15" x2="25.5" y2="20" stroke="#828282" stroke-width="1"/>
  <text x="25.5" y="13" font-family="Liberation Sans, sans-serif" font-size="10" fill="#111" text-anchor="middle">2</text>
</svg>

<!-- settings gear -->
<svg width="22" height="22" viewBox="0 0 22 22" style="left:1374px;top:795px"><g fill="none" stroke="#2a2e39" stroke-width="1.1"><circle cx="11.3" cy="11.2" r="4.7"/><path d="M11.3 4V6.5M11.3 16V18.5M4 11.2H6.5M16 11.2H18.5M6.2 6.1L8 7.9M14.6 14.5L16.4 16.3M16.4 6.1L14.6 7.9M8 14.5L6.2 16.3"/></g></svg>
</div>
</body>
</html>
